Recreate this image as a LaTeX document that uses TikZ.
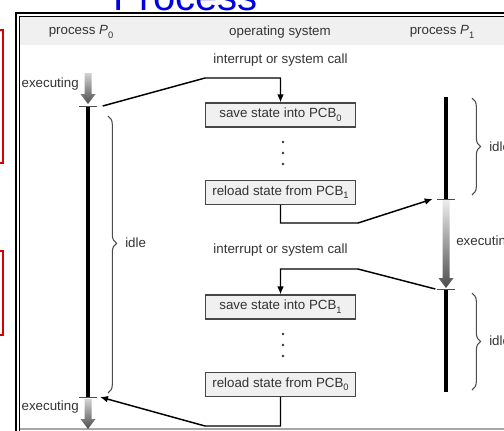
\documentclass[tikz,border=0pt]{standalone}
\usepackage{fontspec}
\setmainfont{Liberation Sans}
\usetikzlibrary{positioning, arrows.meta, decorations.pathreplacing}
\tikzset{
  statebox/.style={
    rectangle, draw=gray!55!black, fill=gray!12, line width=0.9pt,
    minimum width=113pt, minimum height=18pt, inner sep=0pt,
    text=black!80, font=\fontsize{10}{12}\selectfont
  },
  lbl/.style={text=black!80, font=\fontsize{10}{12}\selectfont, inner sep=0pt},
  conn/.style={ % arrows between the processes and the OS
    -{Latex[length=6pt,width=5pt]}, line width=1.1pt, line join=miter
  },
  timeline/.style={line width=2.3pt, black},
  tick/.style={line width=0.6pt, gray!60!black},
  idlebrace/.style={
    decorate, decoration={brace, amplitude=6.5pt, aspect=#1},
    gray!60!black, line width=0.8pt
  },
  idlebrace/.default=0.5,
}
% low subscript as in the original figure
\newcommand{\lowsub}[1]{\raisebox{-0.55ex}{\fontsize{7}{8}\selectfont #1}}
% shaded "executing" arrow: x, top y, tip y, top colour
\newcommand{\execarrow}[4]{%
  \shade[top color=#4, bottom color=gray!60!black]
    (#1-3.5,#2) -- (#1+3.5,#2) -- (#1+3.5,#3-10) -- (#1+7.5,#3-10)
    -- (#1,#3) -- (#1-7.5,#3-10) -- (#1-3.5,#3-10) -- cycle;
}

\begin{document}
\begin{tikzpicture}[x=0.75pt, y=-0.75pt]
  \useasboundingbox (0,0) rectangle (504,430);
  \clip (0,0) rectangle (504,430);
  % slide title, cut off at the top
  \node[anchor=base west, inner sep=0pt, text=blue!90!black,
    font=\fontsize{30}{36}\selectfont] (title) at (113,10) {Process};
  % frame and header band
  \fill[gray!12] (20,16.5) rectangle (520,45);
  \draw[line width=1.6pt] (16,440) -- (16,13) -- (520,13);
  \draw[line width=0.7pt] (19.5,440) -- (19.5,16) -- (520,16);
  \draw[gray!70, line width=1.5pt] (20,428.5) -- (520,428.5);
  % red marks at the left edge
  \draw[red!85!black, line width=0.8pt] (-10,30) rectangle (3,163);
  \draw[red!85!black, line width=0.8pt] (-10,251) rectangle (3,335);
  % headers
  \node[lbl] (hdr0) at (81,32) {process \textit{P}\lowsub{0}};
  \node[lbl] (hdros) at (280,32) {operating system};
  \node[lbl] (hdr1) at (442,32) {process \textit{P}\lowsub{1}};
  % time lines
  \coordinate (p0stop) at (88,106);
  \coordinate (p0wake) at (88,397);
  \coordinate (p1top) at (446,97);
  \coordinate (p1wake) at (446,199);
  \coordinate (p1stop) at (446,289);
  \coordinate (p1end) at (446,392);
  \draw[timeline] (p0stop) -- (p0wake);
  \draw[timeline] (p1top) -- (p1wake);
  \draw[timeline] (p1stop) -- (p1end);
  \foreach \t in {p0stop, p0wake, p1wake, p1stop}
    \draw[tick] ([xshift=-6.75pt]\t) -- ([xshift=6.75pt]\t);
  \execarrow{88}{73}{104}{gray!35}
  \execarrow{88}{399}{429}{gray!35}
  \execarrow{446}{200}{288}{gray!15}
  \node[lbl, anchor=east] (exec0) at (79,84) {executing};
  \node[lbl, anchor=east] (exec0b) at (79,407) {executing};
  \node[lbl, anchor=west] (exec1) at (456,242) {executing};
  % idle braces
  \draw[idlebrace=0.46] (108,116) -- (108,393);
  \node[lbl, anchor=west] (idle0) at (125,243) {idle};
  \draw[idlebrace] (472,98) -- (472,195);
  \node[lbl, anchor=west] (idle1) at (489,147) {idle};
  \draw[idlebrace] (472,293) -- (472,390);
  \node[lbl, anchor=west] (idle1b) at (489,341) {idle};
  % operating system
  \node[lbl] (irq0) at (280.5,60) {interrupt or system call};
  \node[statebox] (save0) at (280.5,115) {save state into PCB\lowsub{0}};
  \node[statebox, below=39pt of save0] (load1) {reload state from PCB\lowsub{1}};
  \node[lbl] (irq1) at (280.5,250) {interrupt or system call};
  \node[statebox] (save1) at (280.5,307) {save state into PCB\lowsub{1}};
  \node[statebox, below=39pt of save1] (load0) {reload state from PCB\lowsub{0}};
  % vertical dots between the boxes
  \coordinate (dots0) at (283,142);
  \coordinate (dots1) at (283,334);
  \foreach \d in {dots0, dots1}
    \foreach \k in {0,1,2}
      \fill[black!80] ([yshift=-\k*8.25pt]\d) circle (1.1pt);
  % switches
  \coordinate (k0) at (205,78);
  \coordinate (k1) at (358,223);
  \coordinate (k2) at (358,269);
  \coordinate (k3) at (205,426);
  \draw[conn] ([xshift=11pt]p0stop) -- (k0) -| (save0.north);
  \draw[conn] (load1.south) |- (k1) -- ([xshift=-10pt]p1wake);
  \draw[conn] ([xshift=-8pt]p1stop) -- (k2) -| (save1.north);
  \draw[conn] (load0.south) |- (k3) -- ([xshift=9pt]p0wake);
\end{tikzpicture}
\end{document}
